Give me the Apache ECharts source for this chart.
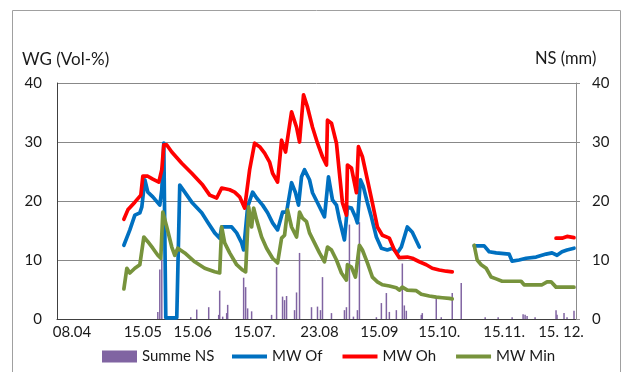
<!DOCTYPE html>
<html>
<head>
<meta charset="utf-8">
<script src="https://cdn.jsdelivr.net/npm/echarts@6/dist/echarts.min.js"></script>
<style>
  html, body { margin: 0; padding: 0; background: #fff; }
  #chart { width: 626px; height: 372px; }
</style>
</head>
<body>
<div id="chart"></div>
<script>
// Tick labels on the time line (day index -> label text)
const tickPos = [7.5, 43, 68, 99, 131.5, 161.5, 191.5, 224, 252.5];
const tickText = ['08.04', '15.05', '15.06', '15.07.', '23.08', '15.09', '15.10.', '15.11.', '15. 12.'];

// Daily precipitation sum, NS (mm): [day index, value]
const summeNS = [
  [50.5, 1.2], [51.5, 8.4], [52.5, 10.2], [67, 0.3], [70, 1.6], [76, 2.0], [81, 0.7], [81.5, 4.8],
  [83, 0.4], [85, 1.0], [85.5, 2.4], [93.5, 7.0], [94.5, 5.4], [95.5, 1.8], [97.5, 1.3], [107.5, 0.7],
  [110, 8.8], [113, 3.8], [114, 3.2], [115, 3.9], [119, 1.5], [120, 4.5], [121.5, 11.2], [127.5, 2.0],
  [130.5, 2.1], [132, 1.5], [133, 7.1], [137.5, 1.0], [144, 1.5], [145, 2.0], [146.5, 16.0], [148.5, 0.4],
  [150.5, 1.5], [151.5, 16.4], [160, 0.3], [162.5, 2.7], [165, 4.4], [166.5, 1.2], [170, 1.5], [173, 9.4],
  [174, 2.3], [175, 1.4], [182.5, 0.7], [183, 1.0], [190, 3.6], [192.5, 0.3], [198, 4.4], [202.5, 6.1],
  [214.5, 0.3], [221, 0.3], [228, 0.3], [233.5, 0.8], [234.5, 0.7], [235.5, 0.5], [239.5, 0.3],
  [250, 1.5], [250.5, 0.7], [254, 1.0], [255.5, 0.3], [259, 1.4]
];

// Mean water content, Of horizon (Vol-%)
const mwOf = [
  [33.5, 12.5], [36.5, 15.1], [39, 17.6], [41.5, 18.0], [42.5, 19.0], [44, 23.6], [45.5, 21.5], [48, 20.7],
  [51.5, 19.3], [52.5, 21.9], [53.5, 29.8], [54.5, 0.2], [60, 0.2], [61.5, 22.7], [64, 21.5], [67.5, 19.8],
  [72.5, 18.0], [75.5, 16.4], [79, 14.6], [81.5, 13.7], [82.5, 15.6], [87.5, 15.6], [90, 14.6], [92.5, 12.9],
  [93.5, 11.7], [95.5, 19.0], [98, 21.5], [100, 20.5], [103, 19.3], [105.5, 18.0], [108, 16.3], [110.5, 15.1],
  [113, 18.1], [115, 18.1], [117.5, 23.1], [119.5, 21.4], [121, 19.3], [122.5, 24.1], [124, 25.3], [126.5, 23.6],
  [128, 21.4], [130.5, 19.7], [134, 17.3], [135, 17.3], [136, 24.1], [138, 20.2], [140, 19.3], [141.5, 16.8],
  [144, 13.4], [145.5, 19.0], [147.5, 18.8], [149.5, 17.3], [150.5, 16.3], [152, 23.6], [153.5, 22.4],
  [155.5, 19.7], [157.5, 17.3], [160, 13.9], [162.5, 12.0], [165.5, 11.7], [168, 12.0], [170.5, 11.2],
  [172.5, 12.2], [175.5, 15.6], [178, 14.7], [181.5, 12.2], [195, '-'],
  [209, 12.4], [214, 12.4], [216.5, 11.4], [220, 11.2], [226.5, 11.0], [228, 9.8], [231.5, 10.0], [235, 10.3],
  [240, 10.5], [245, 11.0], [248, 11.2], [250.5, 10.8], [253, 11.4], [255.5, 11.7], [259, 12.0]
];

// Mean water content, Oh horizon (Vol-%)
const mwOh = [
  [33.5, 16.9], [35.5, 18.5], [39, 19.8], [42, 21.0], [43, 24.2], [45.5, 24.2], [48, 23.7], [51, 23.2],
  [52.5, 25.3], [53.5, 29.5], [55, 29.5], [57.5, 28.3], [62.5, 26.4], [67.5, 24.7], [73, 22.7], [76.5, 21.0],
  [80, 20.5], [82.5, 22.2], [86.5, 21.9], [89, 21.5], [91.5, 20.7], [94, 18.8], [96.5, 25.3], [99, 29.8],
  [101.5, 29.2], [104, 28.1], [106.5, 26.6], [108, 24.7], [110.5, 23.2], [112.5, 30.3], [114.5, 28.3],
  [115.5, 28.6], [117.5, 35.1], [120, 32.5], [121.5, 30.0], [123.5, 38.0], [125.5, 35.9], [128, 32.5],
  [130.5, 29.8], [133, 27.5], [135, 26.1], [135.5, 33.7], [137.5, 33.2], [140, 29.8], [141.5, 24.7],
  [143, 19.7], [145, 17.6], [145.5, 26.1], [147.5, 25.6], [150, 21.4], [151, 29.2], [153, 27.5], [155.5, 23.6],
  [158, 19.7], [160.5, 15.6], [163, 14.2], [166.5, 13.7], [169, 11.7], [171.5, 10.4], [175.5, 10.5],
  [178, 10.3], [181.5, 9.7], [185, 9.2], [188, 8.6], [191.5, 8.3], [195, 8.1], [198, 8.0], [220, '-'],
  [250, 13.7], [253, 13.7], [255.5, 14.0], [259, 13.8]
];

// Mean water content, mineral soil (Vol-%)
const mwMin = [
  [33.5, 5.1], [35, 8.6], [36.5, 7.8], [39, 8.6], [41.5, 9.2], [42.5, 9.2], [43.5, 13.9], [45.5, 13.1],
  [48, 12.0], [50.5, 10.8], [52, 10.3], [53, 18.1], [55, 15.6], [57.5, 12.2], [59, 10.8], [60.5, 12.0],
  [64, 11.2], [69, 9.7], [74, 8.6], [79, 8.0], [81.5, 7.8], [82.5, 15.6], [84, 12.9], [86.5, 11.2], [90, 9.2],
  [93, 8.3], [94.5, 8.0], [96, 19.0], [97.5, 15.6], [98.5, 18.8], [100, 16.8], [102.5, 13.9], [105, 12.0],
  [108, 10.3], [110.5, 9.5], [112.5, 13.7], [114, 14.2], [115.5, 18.5], [117.5, 15.6], [120, 13.9],
  [121.5, 18.1], [123, 17.1], [125, 16.5], [126.5, 14.6], [129, 12.9], [131.5, 11.2], [134, 9.7],
  [135.5, 12.2], [137.5, 11.7], [140, 10.0], [142.5, 7.8], [145, 6.6], [145.5, 9.2], [147.5, 8.8],
  [149.5, 7.1], [151.5, 12.5], [153, 11.7], [155.5, 9.5], [158, 7.1], [160.5, 6.3], [163, 5.8], [166.5, 5.6],
  [170, 5.3], [171.5, 4.9], [173, 5.4], [175.5, 4.9], [180, 4.8], [182.5, 4.2], [186.5, 3.9], [190, 3.7],
  [193, 3.6], [196.5, 3.5], [198, 3.4], [203, '-'],
  [209, 12.5], [210.5, 10.0], [212.5, 9.2], [215, 8.6], [217.5, 7.1], [220, 6.8], [223, 6.4], [232.5, 6.4],
  [234, 5.8], [243, 5.8], [245.5, 6.3], [247.5, 6.3], [250, 5.4], [259, 5.4]
];

const FONT = 'Lato, "Open Sans", sans-serif';
const TEXT = '#1a1a1a';

const chart = echarts.init(document.getElementById('chart'), null, { renderer: 'canvas' });

function lineSeries(name, data, color) {
  return {
    name: name,
    type: 'line',
    data: data,
    yAxisIndex: 0,
    symbol: 'none',
    connectNulls: false,
    lineStyle: { color: color, width: 3.7, join: 'round', cap: 'round' },
    itemStyle: { color: color },
    animation: false,
    z: 3
  };
}

const legendText = { fontFamily: FONT, fontSize: 15, color: TEXT };

chart.setOption({
  animation: false,
  textStyle: { fontFamily: FONT },
  grid: { left: 57, right: 50, top: 83, bottom: 53 },
  graphic: [
    {
      type: 'rect',
      shape: { x: 12.5, y: 10.5, width: 608, height: 400 },
      style: { fill: 'none', stroke: '#a0a0a0', lineWidth: 1 },
      silent: true, z: -1
    },
    {
      type: 'text', left: 22, top: 51,
      style: { text: 'WG (Vol-%)', font: '17px ' + FONT, fill: TEXT }
    },
    {
      type: 'text', left: 535, top: 50,
      style: { text: 'NS (mm)', font: '16.5px ' + FONT, fill: TEXT }
    }
  ],
  legend: [
    {
      left: 97, top: 344,
      itemWidth: 35, itemHeight: 12,
      textStyle: legendText,
      data: [{ name: 'Summe NS', icon: 'rect' }]
    },
    {
      left: 227, top: 344,
      itemWidth: 35, itemHeight: 4,
      itemGap: 20,
      icon: 'rect',
      textStyle: legendText,
      data: ['MW Of', 'MW Oh', 'MW Min']
    }
  ],
  xAxis: {
    type: 'value',
    min: 0,
    max: 260,
    axisLine: { show: true, lineStyle: { color: '#404040', width: 1 } },
    axisTick: { show: false },
    splitLine: { show: false },
    axisLabel: {
      customValues: tickPos,
      formatter: function (v) {
        const i = tickPos.indexOf(v);
        return i >= 0 ? tickText[i] : '';
      },
      fontFamily: FONT, fontSize: 15, color: TEXT, margin: 6,
      showMinLabel: true, showMaxLabel: true
    }
  },
  yAxis: [
    {
      type: 'value', min: 0, max: 40, interval: 10, position: 'left',
      axisLine: { show: true, lineStyle: { color: '#404040', width: 1 } },
      axisTick: { show: false },
      splitLine: { show: true, lineStyle: { color: '#888888', width: 1 } },
      axisLabel: { fontFamily: FONT, fontSize: 15, color: TEXT, margin: 15 }
    },
    {
      type: 'value', min: 0, max: 40, interval: 10, position: 'right',
      axisLine: { show: true, lineStyle: { color: '#8c8c8c', width: 1 } },
      axisTick: { show: true, length: 4, inside: false, lineStyle: { color: '#8c8c8c' } },
      splitLine: { show: false },
      axisLabel: { fontFamily: FONT, fontSize: 15, color: TEXT, margin: 16 }
    }
  ],
  series: [
    {
      name: 'Summe NS',
      type: 'bar',
      yAxisIndex: 1,
      data: summeNS,
      barWidth: 1.5,
      itemStyle: { color: '#8064A2' },
      animation: false,
      z: 2
    },
    lineSeries('MW Of', mwOf, '#0070C0'),
    lineSeries('MW Oh', mwOh, '#FF0000'),
    lineSeries('MW Min', mwMin, '#77933C')
  ]
});
</script>
</body>
</html>
